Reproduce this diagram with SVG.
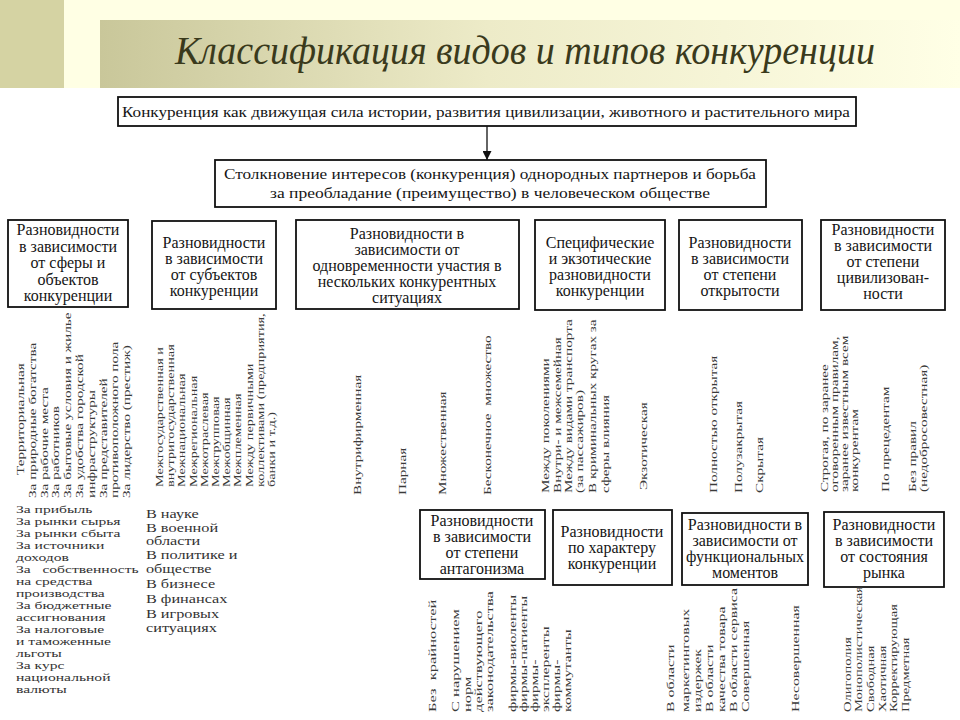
<svg xmlns="http://www.w3.org/2000/svg" width="960" height="720" viewBox="0 0 960 720">
<defs>
<linearGradient id="ban" x1="0" y1="0" x2="1" y2="0">
<stop offset="0" stop-color="#C9C79A"/>
<stop offset="0.45" stop-color="#EDEBC8"/>
<stop offset="1" stop-color="#FFFFE6"/>
</linearGradient>
<marker id="arr" viewBox="0 0 10 10" refX="10" refY="5" markerWidth="9" markerHeight="9" orient="auto" markerUnits="userSpaceOnUse">
<path d="M0,0 L10,5 L0,10 z" fill="#111"/>
</marker>
<style>
.box{fill:#fff;stroke:#111;stroke-width:1.8}
.h{font-family:"Liberation Serif","Times New Roman",Tinos,"Noto Serif","DejaVu Serif",serif;font-size:16px;text-anchor:middle;fill:#151515}
.t{font-family:"Liberation Serif","Times New Roman",Tinos,"Noto Serif","DejaVu Serif",serif;font-size:15px;fill:#151515}
.v{font-family:"Liberation Serif","Times New Roman",Tinos,"Noto Serif","DejaVu Serif",serif;font-size:13px;fill:#3a3a3a}
.la{font-family:"Liberation Serif","Times New Roman",Tinos,"Noto Serif","DejaVu Serif",serif;font-size:12px;fill:#333}
.lb{font-family:"Liberation Serif","Times New Roman",Tinos,"Noto Serif","DejaVu Serif",serif;font-size:13px;fill:#333}
.ti{font-family:"Liberation Serif","Times New Roman",Tinos,"Noto Serif","DejaVu Serif",serif;font-style:italic;font-size:40px;fill:#3A3A1C}
.conn{stroke:#111;stroke-width:1.3;fill:none}
</style>
</defs>
<rect x="0" y="0" width="960" height="720" fill="#fff"/>
<rect x="0" y="0" width="960" height="88" fill="#FFFFE4"/>
<rect x="0" y="0" width="64" height="88" fill="#D5D3A3"/>
<rect x="100" y="20" width="860" height="68" fill="url(#ban)"/>
<text class="ti" x="525" y="64" text-anchor="middle" textLength="700" lengthAdjust="spacingAndGlyphs">Классификация видов и типов конкуренции</text>

<g id="connectors">
<line class="conn" x1="487" y1="126" x2="487" y2="160" marker-end="url(#arr)"/>
</g>

<g id="top1">
<rect class="box" x="118" y="97" width="738" height="29"/>
<text class="t" x="122" y="117" textLength="728" lengthAdjust="spacingAndGlyphs">Конкуренция как движущая сила истории, развития цивилизации, животного и растительного мира</text>
</g>
<g id="top2">
<rect class="box" x="215" y="160" width="551" height="47"/>
<text class="t" x="490" y="179" text-anchor="middle" textLength="532" lengthAdjust="spacingAndGlyphs">Столкновение интересов (конкуренция) однородных партнеров и борьба</text>
<text class="t" x="490" y="198" text-anchor="middle" textLength="440" lengthAdjust="spacingAndGlyphs">за преобладание (преимущество) в человеческом обществе</text>
</g>

<g id="cat1">
<rect class="box" x="8" y="220" width="120" height="87"/>
<text class="h" x="68" y="235">Разновидности</text>
<text class="h" x="68" y="252">в зависимости</text>
<text class="h" x="68" y="268">от сферы и</text>
<text class="h" x="68" y="285">объектов</text>
<text class="h" x="68" y="301">конкуренции</text>
</g>
<g id="cat2">
<rect class="box" x="152" y="221" width="124" height="88"/>
<text class="h" x="214" y="248">Разновидности</text>
<text class="h" x="214" y="264">в зависимости</text>
<text class="h" x="214" y="280">от субъектов</text>
<text class="h" x="214" y="296">конкуренции</text>
</g>
<g id="cat3">
<rect class="box" x="296" y="220" width="223" height="89"/>
<text class="h" x="407" y="239">Разновидности в</text>
<text class="h" x="407" y="255">зависимости от</text>
<text class="h" x="407" y="271">одновременности участия в</text>
<text class="h" x="407" y="287">нескольких конкурентных</text>
<text class="h" x="407" y="303">ситуациях</text>
</g>
<g id="cat4">
<rect class="box" x="535" y="220" width="130" height="90"/>
<text class="h" x="600" y="248">Специфические</text>
<text class="h" x="600" y="264">и экзотические</text>
<text class="h" x="600" y="280">разновидности</text>
<text class="h" x="600" y="296">конкуренции</text>
</g>
<g id="cat5">
<rect class="box" x="679" y="220" width="123" height="90"/>
<text class="h" x="740" y="248">Разновидности</text>
<text class="h" x="740" y="264">в зависимости</text>
<text class="h" x="740" y="280">от степени</text>
<text class="h" x="740" y="296">открытости</text>
</g>
<g id="cat6">
<rect class="box" x="821" y="220" width="124" height="90"/>
<text class="h" x="883" y="235">Разновидности</text>
<text class="h" x="883" y="251">в зависимости</text>
<text class="h" x="883" y="267">от степени</text>
<text class="h" x="883" y="283">цивилизован-</text>
<text class="h" x="883" y="299">ности</text>
</g>

<g id="list1" class="v">
<text transform="translate(24,475) rotate(-90) scale(1.17,0.8)">Территориальная</text>
<text transform="translate(36,498) rotate(-90) scale(1.17,0.8)">За природные богатства</text>
<text transform="translate(48,498) rotate(-90) scale(1.17,0.8)">За рабочие места</text>
<text transform="translate(59,498) rotate(-90) scale(1.17,0.8)">За работников</text>
<text transform="translate(71,498) rotate(-90) scale(1.17,0.8)">За бытовые условия и жилье</text>
<text transform="translate(83,498) rotate(-90) scale(1.17,0.8)">За удобства городской</text>
<text transform="translate(95,498) rotate(-90) scale(1.17,0.8)">инфраструктуры</text>
<text transform="translate(107,498) rotate(-90) scale(1.17,0.8)">За представителей</text>
<text transform="translate(118,498) rotate(-90) scale(1.17,0.8)">противоположного пола</text>
<text transform="translate(130,498) rotate(-90) scale(1.17,0.8)">За лидерство (престиж)</text>
</g>
<g id="list2" class="v">
<text transform="translate(163,487) rotate(-90) scale(1.1,0.8)">Межгосударственная и</text>
<text transform="translate(174,487) rotate(-90) scale(1.1,0.8)">внутригосударственная</text>
<text transform="translate(185,487) rotate(-90) scale(1.1,0.8)">Межнациональная</text>
<text transform="translate(197,487) rotate(-90) scale(1.1,0.8)">Межрегиональная</text>
<text transform="translate(208,487) rotate(-90) scale(1.1,0.8)">Межотраслевая</text>
<text transform="translate(219,487) rotate(-90) scale(1.1,0.8)">Межгрупповая</text>
<text transform="translate(230,487) rotate(-90) scale(1.1,0.8)">Межобщинная</text>
<text transform="translate(241,487) rotate(-90) scale(1.1,0.8)">Межплеменная</text>
<text transform="translate(253,487) rotate(-90) scale(1.1,0.8)">Между первичными</text>
<text transform="translate(264,487) rotate(-90) scale(1.1,0.8)">коллективами (предприятия,</text>
<text transform="translate(275,487) rotate(-90) scale(1.1,0.8)">банки и т.д.)</text>
</g>
<g id="list3" class="v">
<text transform="translate(361,495) rotate(-90) scale(1.17,0.8)">Внутрифирменная</text>
<text transform="translate(406,495) rotate(-90) scale(1.17,0.8)">Парная</text>
<text transform="translate(446,495) rotate(-90) scale(1.17,0.8)">Множественная</text>
<text transform="translate(491,495) rotate(-90) scale(1.17,0.8)" xml:space="preserve">Бесконечное  множество</text>
</g>
<g id="list4" class="v">
<text transform="translate(549,493) rotate(-90) scale(1.17,0.8)">Между поколениями</text>
<text transform="translate(561,493) rotate(-90) scale(1.17,0.8)">Внутри- и межсемейная</text>
<text transform="translate(572,493) rotate(-90) scale(1.17,0.8)">Между видами транспорта</text>
<text transform="translate(583,493) rotate(-90) scale(1.17,0.8)">(за пассажиров)</text>
<text transform="translate(596,493) rotate(-90) scale(1.17,0.8)">В криминальных кругах за</text>
<text transform="translate(609,493) rotate(-90) scale(1.17,0.8)">сферы влияния</text>
<text transform="translate(647,490) rotate(-90) scale(1.17,0.8)">Экзотическая</text>
</g>
<g id="list5" class="v">
<text transform="translate(717,493) rotate(-90) scale(1.17,0.8)">Полностью открытая</text>
<text transform="translate(742,493) rotate(-90) scale(1.17,0.8)">Полузакрытая</text>
<text transform="translate(763,493) rotate(-90) scale(1.17,0.8)">Скрытая</text>
</g>
<g id="list6" class="v">
<text transform="translate(828,492) rotate(-90) scale(1.17,0.8)">Строгая, по заранее</text>
<text transform="translate(838,492) rotate(-90) scale(1.17,0.8)">оговоренным правилам,</text>
<text transform="translate(848,492) rotate(-90) scale(1.17,0.8)">заранее известным всем</text>
<text transform="translate(858,492) rotate(-90) scale(1.17,0.8)">конкурентам</text>
<text transform="translate(889,492) rotate(-90) scale(1.17,0.8)">По прецедентам</text>
<text transform="translate(916,492) rotate(-90) scale(1.17,0.8)">Без правил</text>
<text transform="translate(927,492) rotate(-90) scale(1.17,0.8)">(недобросовестная)</text>
</g>

<g id="listA" class="la" transform="scale(1.3,0.86)">
<text x="12.3" y="596.5">За прибыль</text>
<text x="12.3" y="610.5">За рынки сырья</text>
<text x="12.3" y="624.4">За рынки сбыта</text>
<text x="12.3" y="638.4">За источники</text>
<text x="12.3" y="652.3">доходов</text>
<text x="12.3" y="666.3" xml:space="preserve">За   собственность</text>
<text x="12.3" y="680.2">на средства</text>
<text x="12.3" y="694.2">производства</text>
<text x="12.3" y="708.1">За бюджетные</text>
<text x="12.3" y="722.1">ассигнования</text>
<text x="12.3" y="736">За налоговые</text>
<text x="12.3" y="750">и таможенные</text>
<text x="12.3" y="764">льготы</text>
<text x="12.3" y="777.9">За курс</text>
<text x="12.3" y="791.9">национальной</text>
<text x="12.3" y="805.8">валюты</text>
</g>
<g id="listB" class="lb" transform="scale(1.25,0.9)">
<text x="116.8" y="575.6">В науке</text>
<text x="116.8" y="591.1">В военной</text>
<text x="116.8" y="605.6">области</text>
<text x="116.8" y="621.1">В политике и</text>
<text x="116.8" y="636.7">обществе</text>
<text x="116.8" y="653.3">В бизнесе</text>
<text x="116.8" y="670">В финансах</text>
<text x="116.8" y="686.7">В игровых</text>
<text x="116.8" y="702.2">ситуациях</text>
</g>

<g id="cat7">
<rect class="box" x="420" y="510" width="125" height="69"/>
<text class="h" x="482" y="526">Разновидности</text>
<text class="h" x="482" y="542">в зависимости</text>
<text class="h" x="482" y="558">от степени</text>
<text class="h" x="482" y="574">антагонизма</text>
</g>
<g id="cat8">
<rect class="box" x="553" y="510" width="119" height="75"/>
<text class="h" x="612" y="537">Разновидности</text>
<text class="h" x="612" y="553">по характеру</text>
<text class="h" x="612" y="569">конкуренции</text>
</g>
<g id="cat9">
<rect class="box" x="682" y="513" width="126" height="72"/>
<text class="h" x="745" y="530">Разновидности в</text>
<text class="h" x="745" y="546">зависимости от</text>
<text class="h" x="745" y="562">функциональных</text>
<text class="h" x="745" y="578">моментов</text>
</g>
<g id="cat10">
<rect class="box" x="824" y="512" width="120" height="75"/>
<text class="h" x="884" y="530">Разновидности</text>
<text class="h" x="884" y="546">в зависимости</text>
<text class="h" x="884" y="562">от состояния</text>
<text class="h" x="884" y="578">рынка</text>
</g>

<g id="list7" class="v">
<text transform="translate(436,712) rotate(-90) scale(1.27,0.8)" xml:space="preserve">Без  крайностей</text>
<text transform="translate(459,712) rotate(-90) scale(1.27,0.8)">С нарушением</text>
<text transform="translate(471,712) rotate(-90) scale(1.27,0.8)">норм</text>
<text transform="translate(482,712) rotate(-90) scale(1.27,0.8)">действующего</text>
<text transform="translate(493,712) rotate(-90) scale(1.27,0.8)">законодательства</text>
</g>
<g id="list8" class="v">
<text transform="translate(516,712) rotate(-90) scale(1.22,0.8)">фирмы-виоленты</text>
<text transform="translate(527,712) rotate(-90) scale(1.22,0.8)">фирмы-патиенты</text>
<text transform="translate(538,712) rotate(-90) scale(1.22,0.8)">фирмы-</text>
<text transform="translate(549,712) rotate(-90) scale(1.22,0.8)">эксплеренты</text>
<text transform="translate(560,712) rotate(-90) scale(1.22,0.8)">фирмы-</text>
<text transform="translate(571,712) rotate(-90) scale(1.22,0.8)">коммутанты</text>
</g>
<g id="list9" class="v">
<text transform="translate(674,712) rotate(-90) scale(1.22,0.8)">В области</text>
<text transform="translate(689,712) rotate(-90) scale(1.22,0.8)">маркетинговых</text>
<text transform="translate(701,712) rotate(-90) scale(1.22,0.8)">издержек</text>
<text transform="translate(713,712) rotate(-90) scale(1.22,0.8)">В области</text>
<text transform="translate(725,712) rotate(-90) scale(1.22,0.8)">качества товара</text>
<text transform="translate(737,712) rotate(-90) scale(1.22,0.8)">В области сервиса</text>
<text transform="translate(749,712) rotate(-90) scale(1.22,0.8)">Совершенная</text>
<text transform="translate(799,712) rotate(-90) scale(1.22,0.8)">Несовершенная</text>
</g>
<g id="list10" class="v">
<text transform="translate(851,712) rotate(-90) scale(1.12,0.8)">Олигополия</text>
<text transform="translate(862,712) rotate(-90) scale(1.12,0.8)">Монополистическая</text>
<text transform="translate(874,712) rotate(-90) scale(1.12,0.8)">Свободная</text>
<text transform="translate(886,712) rotate(-90) scale(1.12,0.8)">Хаотичная</text>
<text transform="translate(897,712) rotate(-90) scale(1.12,0.8)">Корректирующая</text>
<text transform="translate(909,712) rotate(-90) scale(1.12,0.8)">Предметная</text>
</g>
</svg>
